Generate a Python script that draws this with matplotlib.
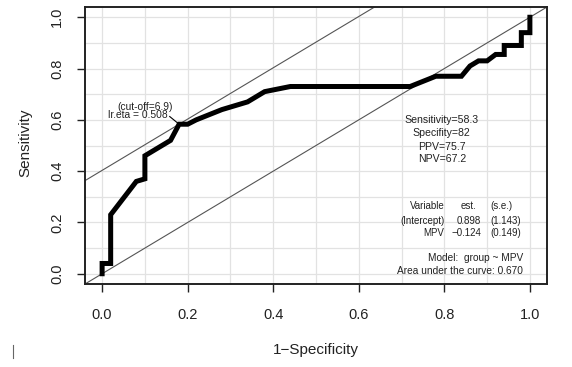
import matplotlib.pyplot as plt
from matplotlib.lines import Line2D

plt.rcParams['font.family'] = ['Liberation Sans', 'DejaVu Sans']

# ROC curve
fpr = [0.0, 0.0, 0.02, 0.02, 0.08, 0.10, 0.10, 0.16, 0.18, 0.20, 0.22, 0.28, 0.34,
       0.38, 0.44, 0.72, 0.78, 0.84, 0.86, 0.88, 0.90, 0.92, 0.94, 0.94, 0.98,
       0.98, 1.0, 1.0]
tpr = [0.0, 0.04, 0.04, 0.23, 0.36, 0.37, 0.46, 0.52, 0.583, 0.583, 0.60, 0.64, 0.67,
       0.71, 0.73, 0.73, 0.77, 0.77, 0.81, 0.83, 0.83, 0.855, 0.855, 0.89, 0.89,
       0.94, 0.94, 1.0]

cut_fpr, cut_tpr = 0.18, 0.583
cut_labels = ['(cut-off=6.9)', 'lr.eta = 0.508']
stats = ['Sensitivity=58.3', 'Specifity=82', 'PPV=75.7', 'NPV=67.2']
table_rows = [('Variable', 'est.', '(s.e.)'),
              ('(Intercept)', '0.898', '(1.143)'),
              ('MPV', '\u22120.124', '(0.149)')]
model_lines = ['Model:  group ~ MPV', 'Area under the curve: 0.670']
ticks = [0.0, 0.2, 0.4, 0.6, 0.8, 1.0]
tick_labels = ['0.0', '0.2', '0.4', '0.6', '0.8', '1.0']

fig = plt.figure(figsize=(5.72, 3.67), dpi=100)
ax = fig.add_axes([85 / 572, 83 / 367, 462 / 572, 277 / 367])

ax.set_xlim(-0.04, 1.04)
ax.set_ylim(-0.04, 1.04)

# light grid every 0.1
for g in [i / 10 for i in range(11)]:
    ax.axvline(g, color='#e2e2e2', lw=0.9, zorder=0)
    ax.axhline(g, color='#e2e2e2', lw=0.9, zorder=0)

# diagonal and the parallel line through the optimal point
ax.plot([-0.04, 1.04], [-0.04, 1.04], color='#555555', lw=0.8, zorder=1)
off = cut_tpr - cut_fpr
ax.plot([-0.04, 1.04], [-0.04 + off, 1.04 + off], color='#555555', lw=0.8, zorder=1)

ax.plot(fpr, tpr, color='black', lw=3.6, solid_joinstyle='miter', zorder=3)

# cut-off annotation
ax.plot([0.158, cut_fpr], [0.613, cut_tpr], color='black', lw=0.8, zorder=3)
ax.text(0.1650, 0.650, cut_labels[0], ha='right', va='center', fontsize=7.4, color='#222222')
ax.text(0.1535, 0.617, cut_labels[1], ha='right', va='center', fontsize=7.4, color='#222222')

for s, y in zip(stats, [0.600, 0.548, 0.496, 0.447]):
    ax.text(0.794, y, s, ha='center', va='center', fontsize=7.6, color='#222222')

for row, y in zip(table_rows, [0.263, 0.206, 0.157]):
    ax.text(0.800, y, row[0], ha='right', va='center', fontsize=7.0, color='#222222')
    if row[1] == 'est.':
        ax.text(0.857, y, row[1], ha='center', va='center', fontsize=7.0, color='#222222')
    else:
        ax.text(0.886, y, row[1], ha='right', va='center', fontsize=7.0, color='#222222')
    ax.text(0.908, y, row[2], ha='left', va='center', fontsize=7.0, color='#222222')

for s, y in zip(model_lines, [0.062, 0.012]):
    ax.text(0.984, y, s, ha='right', va='center', fontsize=7.3, color='#222222')

ax.set_xticks(ticks)
ax.set_xticklabels(tick_labels)
ax.set_yticks(ticks)
ax.set_yticklabels(tick_labels, rotation=90, va='center')
ax.tick_params(axis='both', length=6, width=1.0, labelsize=10.5, color='#222222',
               labelcolor='#222222')
ax.tick_params(axis='x', pad=11)
ax.tick_params(axis='y', pad=9)

for sp in ax.spines.values():
    sp.set_linewidth(1.4)
    sp.set_color('#222222')

ax.set_xlabel('1\u2212Specificity', fontsize=11, color='#222222')
ax.xaxis.set_label_coords(0.5, -0.238)
ax.xaxis.label.set_va('center')
ax.set_ylabel('Sensitivity', fontsize=11, color='#222222')
ax.yaxis.set_label_coords(-0.13, 0.509)
ax.yaxis.label.set_va('center')

# small stray mark at lower left of the original
fig.add_artist(Line2D([12.7 / 572, 12.7 / 572], [1 - 358 / 367, 1 - 345 / 367],
                      color='#666666', lw=0.8))

fig.savefig('out.png', dpi=100)
